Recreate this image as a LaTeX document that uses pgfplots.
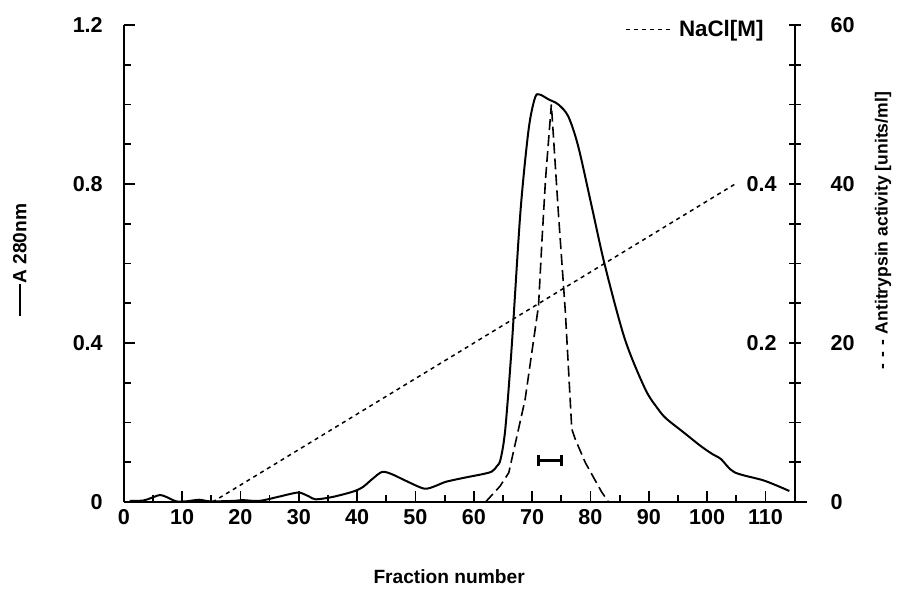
\documentclass[border=0pt]{standalone}
\usepackage{pgfplots}
\pgfplotsset{compat=1.18}
\usepackage{fontspec}
\setmainfont{Liberation Sans}

\pgfplotsset{
  base/.style={
    scale only axis, width=336pt, height=239pt,
    xmin=0, xmax=115,
    /pgf/number format/assume math mode=true,
    tick label style={font=\fontsize{10.8}{12}\selectfont\bfseries},
    label style={font=\fontsize{9.6}{11}\selectfont\bfseries},
    axis line style={-, line width=1pt},
    every tick/.style={black, line width=0.9pt},
  }
}

\begin{document}
\begin{tikzpicture}
% A280 (left axis)
\begin{axis}[base,
  axis x line*=bottom, axis y line*=left,
  x axis line style={shorten >=-6pt},
  ymin=0, ymax=1.2,
  xtick={0,10,...,110}, minor xtick={5,15,...,105},
  ytick={0,0.4,0.8,1.2}, yticklabels={0,0.4,0.8,1.2},
  minor ytick={0.1,0.2,0.3,0.5,0.6,0.7,0.9,1.0,1.1},
  tick align=inside, major tick length=5.5pt, minor tick length=3.5pt,
  yticklabel style={xshift=-7pt},
  xlabel={Fraction number},
  xlabel style={at={(axis description cs:0.485,-0.157)}, anchor=center},
  ylabel={\rule[0.3em]{16pt}{0.8pt}A 280nm},
  ylabel style={at={(axis description cs:-0.155,0.508)}, anchor=center},
]
\addplot[black, line width=1pt, smooth, tension=0.5] coordinates {
(1.0,0.003) (3.3,0.004) (5.0,0.012) (6.2,0.018) (7.3,0.013) (9.0,0.002)
(10.7,0.002) (13.0,0.006) (14.7,0.002) (18.7,0.003) (20.4,0.005) (23.2,0.003)
(26.1,0.012) (28.4,0.020) (30.1,0.024) (31.8,0.014) (32.9,0.007) (35.8,0.013)
(39.2,0.026) (40.9,0.037) (42.6,0.058) (44.3,0.076) (46.0,0.070) (48.3,0.054)
(51.5,0.034) (53.5,0.041) (55.2,0.051) (58.6,0.062) (61.4,0.070) (63.1,0.077)
(64.0,0.091) (64.6,0.108) (65.4,0.183) (66.5,0.39) (68.0,0.73) (69.4,0.937)
(70.5,1.017) (71.3,1.025) (72.8,1.013) (74.5,1.000) (76.2,0.970) (77.9,0.895)
(80.2,0.745) (82.5,0.594) (85.9,0.410) (89.4,0.284) (91.6,0.234) (93.0,0.210)
(96.0,0.175) (99.0,0.140) (101.0,0.120) (102.4,0.108) (104.7,0.075)
(109.8,0.054) (114.1,0.028)
};
\coordinate (bl) at (rel axis cs:-0.1845,-0.1883);
\coordinate (tr) at (rel axis cs:1.1518,1.0523);
\end{axis}

% Antitrypsin activity (right axis)
\begin{axis}[base,
  axis x line=none, axis y line*=right,
  ymin=0, ymax=60,
  ytick={0,20,40,60},
  minor ytick={5,10,15,25,30,35,45,50,55},
  tick align=center, major tick length=6pt, minor tick length=6pt,
  yticklabel style={xshift=11.5pt},
  ylabel={-\,\,-\,\,-\,\,Antitrypsin activity [units/ml]},
  ylabel style={at={(axis description cs:1.132,0.569)}, anchor=center,
    font=\fontsize{8.8}{10}\selectfont\bfseries},
]
\addplot[black, line width=0.8pt, dash pattern=on 5.5pt off 2.5pt] coordinates {
(62.0,0) (64.5,2.0) (66.0,3.7) (68.8,12.9) (71.1,24.7) (71.7,33.0) (72.3,40.6)
(73.3,50.0) (74.5,36.4) (75.7,23.9) (76.8,9.2) (77.4,7.9) (79.1,5.0)
(81.9,1.3) (83.1,0)
};
\addplot[black, line width=1.3pt, mark=|, mark size=2.75pt] coordinates {
(71.1,5.2) (75.0,5.2)
};
\end{axis}

% NaCl gradient
\begin{axis}[base,
  axis x line=none, axis y line*=right,
  axis line style={draw=none},
  ymin=0, ymax=0.6,
  ytick={0.2,0.4}, yticklabels={0.2,0.4},
  major tick length=0pt,
  yticklabel style={anchor=east, xshift=-5.5pt},
  legend style={draw=none, fill=none, at={(rel axis cs:0.975,0.99)}, anchor=east,
    font=\fontsize{11.2}{13}\selectfont\bfseries,
    legend cell align=left, nodes={inner xsep=4pt}},
  legend image code/.code={\draw[#1] (0cm,0cm) -- (0.78cm,0cm);},
]
\addplot[black, line width=0.75pt, dash pattern=on 2pt off 2pt] coordinates {
(15.2,0) (104.8,0.4)
};
\addlegendentry{NaCl[M]}
\end{axis}
\path (bl) rectangle (tr);
\end{tikzpicture}
\end{document}
